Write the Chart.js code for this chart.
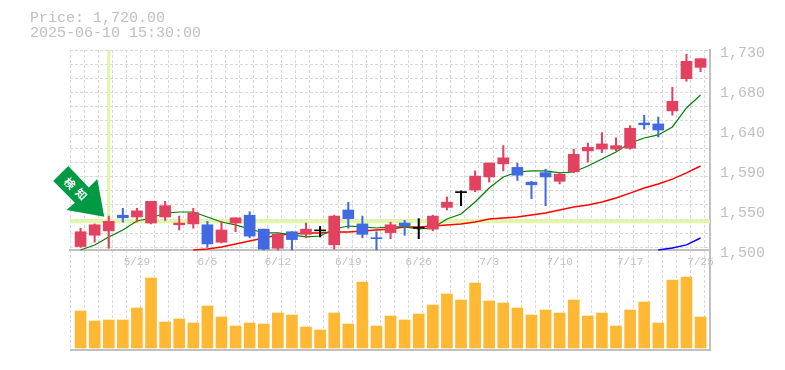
<!DOCTYPE html>
<html>
<head>
<meta charset="utf-8">
<title>Price chart</title>
<script src="https://cdn.jsdelivr.net/npm/chart.js@4"></script>
<style>
  html, body { margin: 0; padding: 0; background: #fff; }
  canvas { display: block; }
</style>
</head>
<body>
<canvas id="priceChart" width="785" height="370"></canvas>
<script>
/* ================= DATA ================= */
const dates = ["5/23","5/26","5/27","5/28","5/29","5/30","6/2","6/3","6/4","6/5","6/6","6/9","6/10","6/11","6/12","6/13","6/16","6/17","6/18","6/19","6/20","6/23","6/24","6/25","6/26","6/27","6/30","7/1","7/2","7/3","7/4","7/7","7/8","7/9","7/10","7/11","7/14","7/15","7/16","7/17","7/18","7/22","7/23","7/24","7/25"];
const opens = [1504,1517,1522,1540,1538,1531,1538,1529,1530,1529,1509,1531,1540,1524,1502,1521,1518,1522,1506,1546,1530,1514,1520,1531,1525,1524,1549,1566,1569,1584,1599,1595,1578,1589,1579,1590,1614,1616,1616,1617,1646,1645,1660,1697,1710];
const highs = [1525,1530,1539,1548,1548,1556,1556,1539,1548,1533,1533,1537,1544,1524,1520,1521,1531,1527,1540,1555,1539,1521,1532,1534,1536,1540,1561,1568,1591,1600,1620,1600,1579,1593,1589,1616,1623,1635,1629,1643,1655,1653,1687,1725,1720];
const lows = [1503,1509,1502,1532,1532,1530,1534,1523,1525,1503,1508,1521,1514,1500,1500,1500,1514,1515,1501,1525,1514,1500,1513,1517,1513,1522,1546,1551,1567,1578,1591,1580,1559,1551,1576,1589,1601,1612,1614,1616,1639,1630,1655,1694,1705];
const closes = [1521,1529,1533,1537,1545,1556,1551,1531,1543,1507,1523,1537,1516,1501,1518,1512,1524,1522,1539,1536,1518,1513,1529,1528,1525,1539,1555,1566,1585,1600,1606,1586,1575,1584,1587,1610,1618,1622,1620,1640,1644,1638,1671,1717,1720];
const volumes = [111,81,84,84,120,210,78,87,75,126,93,66,75,72,105,99,63,54,105,72,198,66,96,84,102,129,162,144,195,141,135,120,99,114,105,144,96,105,66,114,138,75,204,213,93];

const maShort = [1500,1505.8,1515,1523,1533.4,1536.8,1542.5,1543.7,1543.7,1538,1532.2,1528.8,1524.2,1519.6,1519.6,1517.3,1515,1516.1,1524.2,1527.6,1526.5,1525.3,1526.5,1526.5,1524.2,1525.3,1535.7,1541.4,1555.2,1571.3,1584,1589.7,1590.9,1590.9,1588.6,1589.7,1596.6,1604.6,1612.7,1623.1,1628.8,1632.3,1641.5,1663.3,1678.3];
const maMiddle = [null,null,null,null,null,null,null,null,1500,1501.2,1503.5,1506.9,1510.4,1513.8,1517.3,1518.4,1519.6,1519.6,1520.7,1520.7,1521.9,1523,1524.2,1526.5,1526.5,1527.6,1528.8,1529.9,1532.2,1535.7,1536.8,1538,1540.3,1542.5,1546,1549.5,1551.8,1555.2,1559.8,1565.5,1571.3,1575.9,1581.6,1588.6,1596.6];
const maLong = [null,null,null,null,null,null,null,null,null,null,null,null,null,null,null,null,null,null,null,null,null,null,null,null,null,null,null,null,null,null,null,null,null,null,null,null,null,null,null,null,null,1500,1502.3,1505.8,1513.8];

const dateTickIndexes = [4,9,14,19,24,29,34,39,44];
const priceTicks = [1730,1684,1638,1592,1546,1500];
const priceTickLabels = ["1,730","1,680","1,640","1,590","1,550","1,500"];
const titleLines = ["Price: 1,720.00","2025-06-10 15:30:00"];
const arrowLabel = ["検","知"];
const crossIndex = 2;
const crossPrice = 1533;

/* ================= STYLE ================= */
const UP = "#e2415f", DOWN = "#4169e1", EVEN = "#000000";
const AXIS = "#c0c0c0", GRID = "#d8d8d8", CROSS = "#e2f5aa", TEXT = "#c0c0c0";
const MONO = "'Liberation Mono', monospace";

const X_MIN = -0.75, X_MAX = 44.67;
const PRICE_MIN = 1385, PRICE_MAX = 1730;
const VOL_MIN = -6, VOL_MAX = 894;
const GRID_X_START = -0.73, GRID_PRICE_STEP = 16.2;

function candleColor(i) {
  if (closes[i] > opens[i]) return UP;
  if (closes[i] < opens[i]) return DOWN;
  return EVEN;
}

const candleColors = dates.map((_, i) => candleColor(i));
const linePoints = arr => arr.map((y, x) => ({ x, y }));

/* ================= ARROW MARK ================= */
const arrowMark = {
  id: "arrowMark",
  afterDatasetsDraw(chart) {
    const { ctx, scales } = chart;
    const tipX = scales.x.getPixelForValue(crossIndex) - 4.5;
    const tipY = scales.yPrice.getPixelForValue(crossPrice) - 4.5;
    const shape = [[-36,-50.7],[-51,-35.7],[-29.4,-14],[-37.7,-6.7],[0,0],[-7,-37.7],[-15.4,-29.4]];
    ctx.save();
    ctx.fillStyle = "#009944";
    ctx.beginPath();
    shape.forEach(([dx, dy], i) => i ? ctx.lineTo(tipX + dx, tipY + dy) : ctx.moveTo(tipX + dx, tipY + dy));
    ctx.closePath();
    ctx.fill();
    ctx.fillStyle = "#ffffff";
    ctx.font = "bold 11px 'Noto Sans CJK JP'";
    ctx.textAlign = "center";
    ctx.textBaseline = "middle";
    [[-34.4,-33.4],[-23,-22.7]].forEach(([dx, dy], i) => {
      ctx.save();
      ctx.translate(tipX + dx, tipY + dy);
      ctx.rotate(Math.PI / 4);
      ctx.fillText(arrowLabel[i], 0, 0);
      ctx.restore();
    });
    ctx.restore();
  }
};

/* ================= CHART ================= */
new Chart(document.getElementById("priceChart").getContext("2d"), {
  type: "bar",
  plugins: [arrowMark],
  data: {
    datasets: [
      {
        label: "Cross vertical", type: "line", order: 9, yAxisID: "yPrice", xAxisID: "x",
        data: [{ x: crossIndex, y: PRICE_MAX }, { x: crossIndex, y: 1503 }],
        borderColor: CROSS, borderWidth: 3, pointRadius: 0
      },
      {
        label: "Cross horizontal", type: "line", order: 8, yAxisID: "yPrice", xAxisID: "x",
        data: [{ x: X_MIN, y: crossPrice }, { x: X_MAX, y: crossPrice }],
        borderColor: CROSS, borderWidth: 4, pointRadius: 0
      },
      {
        label: "Volume", order: 7, yAxisID: "yVol", xAxisID: "x",
        data: linePoints(volumes),
        backgroundColor: "#ffb833", barThickness: 11, grouped: false
      },
      {
        label: "MA long", type: "line", order: 6, yAxisID: "yPrice", xAxisID: "x",
        data: linePoints(maLong), borderColor: "#0000ff", borderWidth: 1.4, pointRadius: 0
      },
      {
        label: "MA middle", type: "line", order: 5, yAxisID: "yPrice", xAxisID: "x",
        data: linePoints(maMiddle), borderColor: "#ff0000", borderWidth: 1.4, pointRadius: 0
      },
      {
        label: "MA short", type: "line", order: 4, yAxisID: "yPrice", xAxisID: "x",
        data: linePoints(maShort), borderColor: "#008000", borderWidth: 1.2, pointRadius: 0
      },
      {
        label: "High-Low", order: 3, yAxisID: "yPrice", xAxisID: "x",
        data: dates.map((_, i) => ({ x: i, y: [lows[i], highs[i]] })),
        backgroundColor: candleColors, barThickness: 1.4, grouped: false
      },
      {
        label: "Open-Close", order: 2, yAxisID: "yPrice", xAxisID: "x",
        data: dates.map((_, i) => ({ x: i, y: [opens[i], closes[i]] })),
        backgroundColor: candleColors, barThickness: 11, minBarLength: 1, grouped: false
      }
    ]
  },
  options: {
    responsive: false,
    animation: false,
    layout: { padding: { left: 30, right: 0, top: 0, bottom: 20 } },
    plugins: {
      legend: { display: false },
      tooltip: { enabled: false },
      title: {
        display: true,
        text: titleLines,
        align: "start",
        color: TEXT,
        font: { family: MONO, size: 15, weight: "normal", lineHeight: 1 },
        padding: { top: 11, bottom: 9 }
      }
    },
    scales: {
      x: {
        type: "linear",
        offset: false,
        position: { yPrice: 1500 },
        min: X_MIN,
        max: X_MAX,
        afterBuildTicks: s => { s.ticks = dateTickIndexes.map(value => ({ value })); },
        grid: { display: false, drawTicks: false },
        border: { color: AXIS, width: 2 },
        ticks: {
          autoSkip: false, maxRotation: 0, color: TEXT, padding: 5,
          font: { family: MONO, size: 11 },
          callback: v => dates[v]
        }
      },
      xGrid: {
        type: "linear",
        offset: false,
        position: "bottom",
        min: X_MIN,
        max: X_MAX,
        afterBuildTicks: s => { s.ticks = Array.from({ length: 46 }, (_, k) => ({ value: GRID_X_START + k })); },
        afterFit: s => { s.height = 0; },
        grid: { color: GRID, lineWidth: 1, drawTicks: false, offset: false },
        border: { display: false, dash: [3, 2] },
        ticks: { display: false, autoSkip: false }
      },
      yPrice: {
        position: "right",
        min: PRICE_MIN,
        max: PRICE_MAX,
        afterBuildTicks: s => { s.ticks = priceTicks.map(value => ({ value })); },
        afterFit: s => { s.width = 75; },
        grid: { display: false, drawTicks: false },
        border: { color: AXIS, width: 2 },
        ticks: {
          autoSkip: false, color: TEXT, padding: 10, labelOffset: 3,
          font: { family: MONO, size: 15 },
          callback: v => priceTickLabels[priceTicks.indexOf(v)]
        }
      },
      yGrid: {
        position: "right",
        min: PRICE_MIN,
        max: PRICE_MAX,
        afterBuildTicks: s => { s.ticks = Array.from({ length: 15 }, (_, k) => ({ value: PRICE_MAX - GRID_PRICE_STEP * k })); },
        afterFit: s => { s.width = 0; },
        grid: { color: GRID, lineWidth: 1, drawTicks: false },
        border: { display: false, dash: [3, 2] },
        ticks: { display: false, autoSkip: false }
      },
      yVol: {
        position: "left",
        min: VOL_MIN,
        max: VOL_MAX,
        afterBuildTicks: s => { s.ticks = [{ value: VOL_MIN }]; },
        afterFit: s => { s.width = 40; },
        grid: { color: AXIS, lineWidth: 2, drawTicks: false },
        border: { display: false },
        ticks: { display: false }
      }
    }
  }
});
</script>
</body>
</html>
